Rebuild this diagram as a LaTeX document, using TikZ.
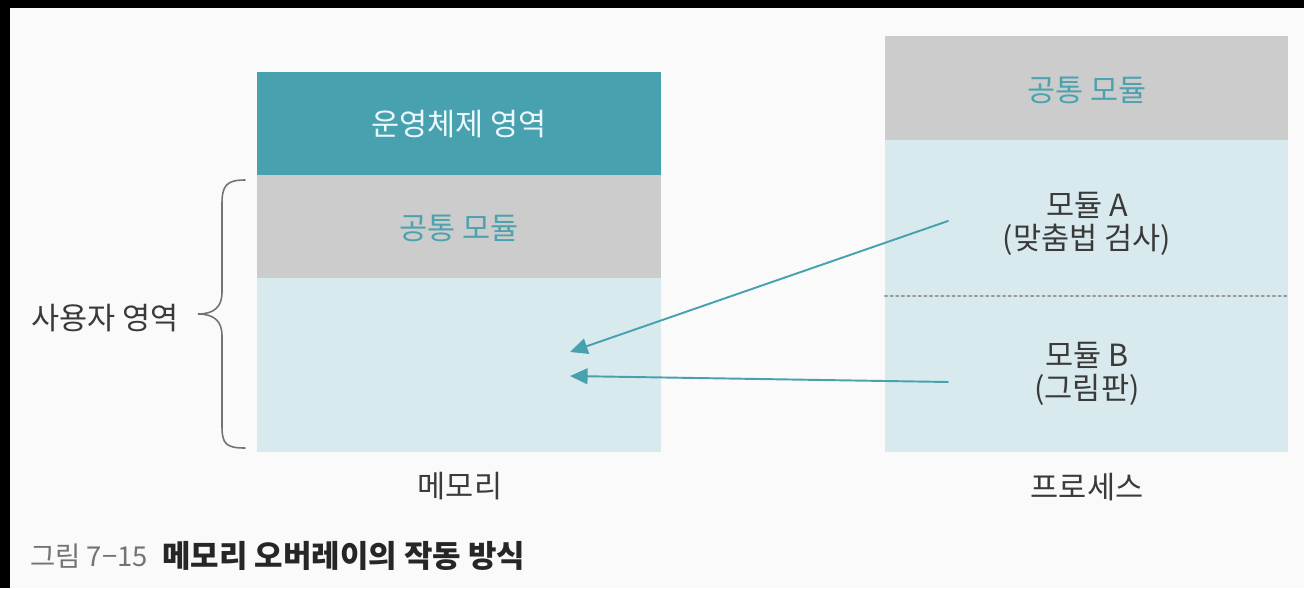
\documentclass[tikz,border=0pt]{standalone}
\usepackage{fontspec}
\setmainfont{Noto Sans CJK KR}
\usepackage{tikz}
\usetikzlibrary{arrows.meta}
\usepackage{xcolor}
\definecolor{osteal}{HTML}{47A1AF}
\definecolor{modgray}{HTML}{CCCCCD}
\definecolor{userblue}{HTML}{D9EAEE}
\definecolor{labteal}{HTML}{4CA3AE}
\definecolor{textdark}{HTML}{3A3A3A}

\begin{document}
\begin{tikzpicture}[x=0.02cm,y=-0.02cm,>={Triangle[length=10pt,width=9pt]},
  font=\fontsize{17.4}{20}\selectfont,line cap=round,
  lab/.style={text=textdark,inner sep=0pt},
  teallab/.style={text=labteal,inner sep=0pt},
  link/.style={->,osteal,line width=1.1pt}]
\useasboundingbox (0,0) rectangle (1304,588);
\fill[black] (0,0) rectangle (1304,588);
\fill[white!98!black] (10,8) rectangle (1304,588);
% memory column
\fill[osteal] (257,72) rectangle (661,175);
\fill[modgray] (257,175) rectangle (661,278);
\fill[userblue] (257,278) rectangle (661,452);
\node[inner sep=0pt,text=white!92!cyan] (os) at (459,124) {운영체제 영역};
\node[teallab] (memcommon) at (459,228) {공통 모듈};
\node[lab] (memory) at (460,486) {메모리};
% process column
\fill[modgray] (885,36) rectangle (1288,140);
\fill[userblue] (885,140) rectangle (1288,452);
\draw[gray!80,line width=1.2pt,dotted] (885,296) -- (1288,296);
\node[teallab] (proccommon) at (1087,90) {공통 모듈};
\node[lab] (moda) at (1087,205) {모듈 A};
\node[lab] (modanote) at (1087,240) {(맞춤법 검사)};
\node[lab] (modb) at (1087,355) {모듈 B};
\node[lab] (modbnote) at (1087,390) {(그림판)};
\node[lab] (process) at (1087,487) {프로세스};
% user area brace
\draw[gray!90!black,line width=0.9pt] (245,180) .. controls (226,180) and (222,186) .. (222,204)
  -- (222,292) .. controls (222,307) and (214,314) .. (198,314)
  .. controls (214,314) and (222,321) .. (222,336)
  -- (222,426) .. controls (222,444) and (226,448) .. (245,448);
\node[lab] (userarea) at (105,318) {사용자 영역};
% overlay arrows
\coordinate (afrom) at (948,221);
\coordinate (ato) at (570,352);
\coordinate (bfrom) at (948,382);
\coordinate (bto) at (570,376);
\draw[link] (afrom) -- (ato);
\draw[link] (bfrom) -- (bto);
% caption
\node[anchor=west,inner sep=0pt,text=gray!90!black,font=\fontsize{15.6}{18}\selectfont] (capnum) at (30,556) {그림 7−15};
\node[anchor=west,inner sep=0pt,text=black!85,font=\fontsize{17.6}{20}\selectfont\bfseries] (captext) at (162,556) {메모리 오버레이의 작동 방식};
\end{tikzpicture}
\end{document}
